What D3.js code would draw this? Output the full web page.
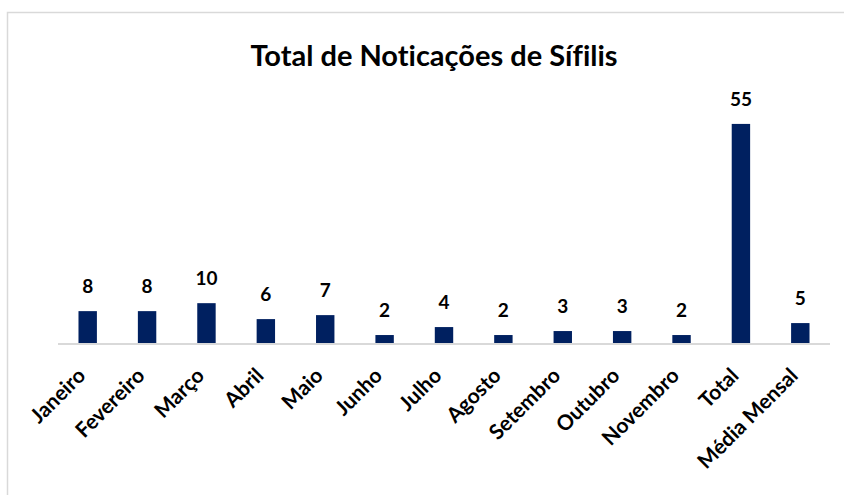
<!DOCTYPE html>
<html>
<head>
<meta charset="utf-8">
<script src="https://cdn.jsdelivr.net/npm/d3@7"></script>
<style>
  body { margin: 0; background: #fff; }
  svg { display: block; }
</style>
</head>
<body>
<svg id="chart" width="844" height="495"></svg>
<script>
let meses = ['Janeiro', 'Fevereiro', 'Março', 'Abril', 'Maio', 'Junho', 'Julho', 'Agosto',
             'Setembro', 'Outubro', 'Novembro', 'Total', 'Média Mensal']
let notificacoes = [8, 8, 10, 6, 7, 2, 4, 2, 3, 3, 2, 55, 5]
let titulo = 'Total de Noticações de Sífilis'

let svg = d3.select('#chart')
let fonte = 'Lato, "Open Sans", sans-serif'

// moldura cinza do grafico
svg.append('rect')
   .attr('x', 7.5).attr('y', 12.5)
   .attr('width', 900).attr('height', 520)
   .attr('fill', 'none')
   .attr('stroke', '#d9d9d9')
   .attr('stroke-width', 1.5)

svg.append('text')
   .attr('x', 434).attr('y', 66)
   .attr('text-anchor', 'middle')
   .style('font-family', fonte)
   .style('font-weight', 'bold')
   .style('font-size', '29px')
   .style('font-variant-ligatures', 'none')
   .text(titulo)

let xScale = d3.scaleBand()
               .domain(meses)
               .range([58, 830])
               .paddingInner(0.69)
               .paddingOuter(0.345)

let yScale = d3.scaleLinear()
               .domain([0, 60])
               .range([343, 104])

let dados = meses.map((m, i) => ({ mes: m, valor: notificacoes[i] }))

svg.selectAll('.bar')
   .data(dados)
   .enter()
   .append('rect')
   .attr('class', 'bar')
   .attr('x', d => xScale(d.mes))
   .attr('y', d => yScale(d.valor))
   .attr('width', xScale.bandwidth())
   .attr('height', d => yScale(0) - yScale(d.valor))
   .attr('fill', '#002060')

// eixo x: so a linha de base, sem ticks
svg.append('line')
   .attr('x1', 58).attr('x2', 830)
   .attr('y1', yScale(0) + 1).attr('y2', yScale(0) + 1)
   .attr('stroke', '#d9d9d9')
   .attr('stroke-width', 2)

svg.selectAll('.rotulo')
   .data(dados)
   .enter()
   .append('text')
   .attr('class', 'rotulo')
   .attr('x', d => xScale(d.mes) + xScale.bandwidth() / 2)
   .attr('y', d => yScale(d.valor) - 18)
   .attr('text-anchor', 'middle')
   .style('font-family', fonte)
   .style('font-weight', 'bold')
   .style('font-size', '19px')
   .text(d => d.valor)

svg.selectAll('.categoria')
   .data(dados)
   .enter()
   .append('text')
   .attr('class', 'categoria')
   .attr('text-anchor', 'end')
   .attr('transform', d => {
       let cx = xScale(d.mes) + xScale.bandwidth() / 2 - 1
       return 'translate(' + cx + ',' + 377 + ') rotate(-45)'
   })
   .style('font-family', fonte)
   .style('font-weight', 'bold')
   .style('font-size', '21px')
   .text(d => d.mes)
</script>
</body>
</html>
